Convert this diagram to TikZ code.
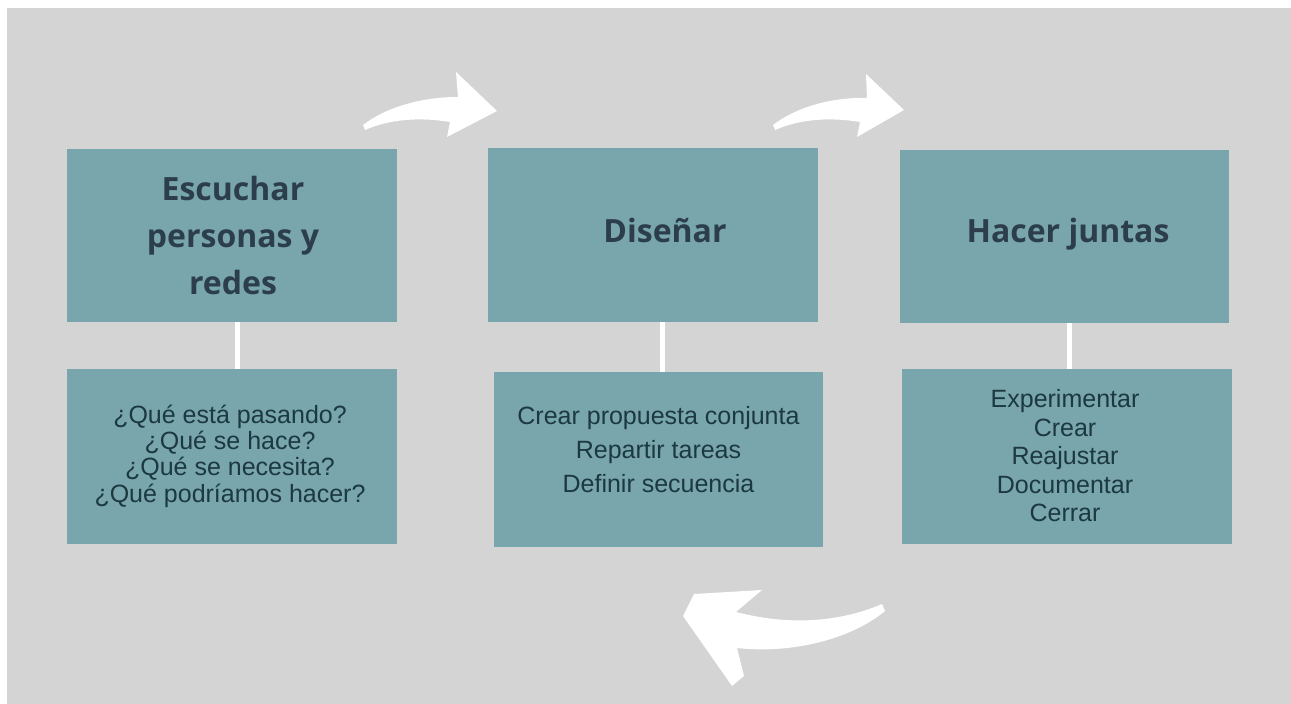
\documentclass[tikz,border=0pt]{standalone}
\usepackage{fontspec}
\setmainfont{Liberation Sans}
\newfontfamily\titlefont{Open Sans}
\definecolor{bgc}{HTML}{D4D4D4}
\definecolor{boxc}{HTML}{78A6AC}
\definecolor{ttlc}{HTML}{2C3E4C}
\definecolor{bdyc}{HTML}{1C3840}
\begin{document}
\begin{tikzpicture}[x=1pt,y=-1pt,
  box/.style={fill=boxc, draw=none, inner sep=0pt, minimum width=330pt, minimum height=174pt},
  ttl/.style={text=ttlc, align=center, inner sep=0pt, font=\titlefont\bfseries\fontsize{32}{47}\selectfont},
  bdy/.style={text=bdyc, align=center, inner sep=0pt},
  conn/.style={draw=white, line width=5pt},
  arr/.style={fill=white, draw=none}]
\useasboundingbox (0,0) rectangle (1291,704);
\fill[white] (0,0) rectangle (1291,704);
\fill[bgc] (7,8) rectangle (1291,704);

% upper boxes
\node[box, minimum height=173pt] (b1t) at (232,235.5) {};
\node[box] (b2t) at (653,235) {};
\node[box, minimum width=329pt, minimum height=173pt] (b3t) at (1064.5,236.5) {};
% lower boxes
\node[box, minimum height=175pt] (b1b) at (232,456.5) {};
\node[box, minimum width=329pt, minimum height=175pt] (b2b) at (658.5,459.5) {};
\node[box, minimum height=175pt] (b3b) at (1067,456.5) {};

% connectors
\draw[conn] ([xshift=5pt]b1t.south) -- ([xshift=5pt]b1b.north);
\draw[conn] ([xshift=9pt]b2t.south) -- ([xshift=3.5pt]b2b.north);
\draw[conn] ([xshift=4.5pt]b3t.south) -- ([xshift=2pt]b3b.north);

% titles
\node[ttl] (t1) at (233,235) {Escuchar\\personas y\\redes};
\node[ttl, anchor=base] (t2) at (665,242) {Diseñar};
\node[ttl, anchor=base] (t3) at (1068,242) {Hacer juntas};

% body texts
\node[bdy, font=\fontsize{25}{26.3}\selectfont] (x1) at (230,456) {¿Qué está pasando?\\¿Qué se hace?\\¿Qué se necesita?\\¿Qué podríamos hacer?};
\node[bdy, font=\fontsize{25}{34}\selectfont] (x2) at (658.5,450) {Crear propuesta conjunta\\Repartir tareas\\Definir secuencia};
\node[bdy, font=\fontsize{25}{28.5}\selectfont] (x3) at (1065,456) {Experimentar\\Crear\\Reajustar\\Documentar\\Cerrar};

% curved arrows
\fill[arr] (363,125) .. controls (385,108) and (420,97) .. (458,97) -- (456,72) -- (497,111) -- (447,137) -- (450,122) .. controls (420,117) and (390,119) .. (365,130) -- cycle;
\fill[arr] (773,125) .. controls (795,108) and (830,97) .. (867,98) -- (866,74) -- (904,110) -- (857,137) -- (860,122) .. controls (830,117) and (800,119) .. (775,130) -- cycle;
\fill[arr] (762,590) -- (694,594) -- (683,616) -- (732,686) -- (744,676) -- (737,648) .. controls (790,654) and (850,640) .. (885,611) -- (882,604) .. controls (840,622) and (790,626) .. (736,612) -- cycle;
\end{tikzpicture}
\end{document}
